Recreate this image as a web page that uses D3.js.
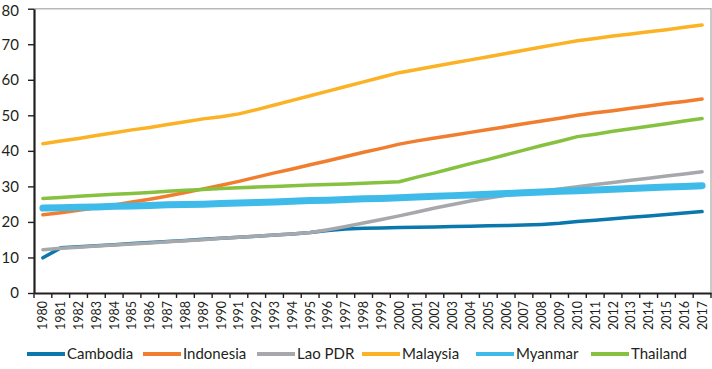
<!DOCTYPE html>
<html><head><meta charset="utf-8">
<script src="https://cdn.jsdelivr.net/npm/d3@7"></script>
<style>
html,body{margin:0;padding:0;background:#fff;}
svg{display:block;font-family:Lato,"Noto Sans",sans-serif;}
</style></head>
<body><svg id="c" width="712" height="369"></svg>
<script>
const years = d3.range(1980, 2018).map(String);
const seriesNames = ["Cambodia","Indonesia","Lao PDR","Malaysia","Myanmar","Thailand"];
const cambodia = [9.9,12.7,13.0,13.3,13.6,13.9,14.2,14.5,14.8,15.1,15.4,15.7,16.0,16.3,16.6,17.0,17.6,18.0,18.2,18.3,18.4,18.5,18.6,18.7,18.8,18.9,19.0,19.1,19.3,19.6,20.1,20.5,20.9,21.3,21.7,22.1,22.5,22.9];
const indonesia = [22.0,22.6,23.3,24.0,24.8,25.6,26.4,27.3,28.3,29.3,30.3,31.4,32.6,33.8,34.9,36.1,37.2,38.4,39.6,40.7,41.9,42.8,43.6,44.4,45.2,46.0,46.8,47.6,48.4,49.2,50.0,50.7,51.3,52.0,52.6,53.3,53.9,54.6];
const lao = [12.2,12.6,12.9,13.2,13.5,13.8,14.1,14.4,14.7,15.0,15.4,15.7,16.0,16.3,16.6,17.0,17.8,18.7,19.7,20.7,21.7,22.8,23.9,24.9,25.9,26.7,27.5,28.1,28.7,29.3,29.9,30.5,31.1,31.7,32.3,32.9,33.5,34.1];
const malaysia = [42.0,42.8,43.5,44.3,45.1,45.9,46.6,47.4,48.2,49.0,49.6,50.4,51.6,52.9,54.2,55.5,56.8,58.1,59.4,60.7,62.0,62.9,63.8,64.7,65.6,66.5,67.4,68.3,69.2,70.1,71.0,71.6,72.3,72.9,73.5,74.1,74.8,75.4];
const myanmar = [23.9,24.0,24.1,24.2,24.4,24.5,24.6,24.8,24.9,25.0,25.2,25.3,25.5,25.6,25.8,26.0,26.1,26.3,26.5,26.6,26.8,27.0,27.2,27.4,27.6,27.8,28.0,28.2,28.4,28.6,28.8,29.0,29.2,29.4,29.6,29.8,30.0,30.2];
const thailand = [26.6,26.9,27.2,27.5,27.8,28.0,28.3,28.6,28.9,29.1,29.4,29.6,29.8,30.0,30.2,30.4,30.5,30.7,30.9,31.1,31.3,32.6,33.8,35.1,36.4,37.6,38.9,40.2,41.5,42.7,44.0,44.7,45.5,46.2,46.9,47.6,48.4,49.1];
const yTicks = [0,10,20,30,40,50,60,70,80];
const colors = ["#0b78ad","#f07e2e","#a6a8ab","#fbb224","#3fbbe9","#87c140"];
const widths = [3.5,3.5,3.5,3.5,7,3.5];

const allSeries = [cambodia, indonesia, lao, malaysia, myanmar, thailand];
const svg = d3.select("#c");
const L = 34, R = 711, T = 8.7, B = 293;
const x = d3.scaleBand().domain(years).range([L, R]);
const y = d3.scaleLinear().domain([0, 80]).range([B, T]);

// border top/right
svg.append("path").attr("d", `M${L},${T}H${R}V${B}`).attr("fill","none").attr("stroke","#b9b9b9").attr("stroke-width",1.5);

// y axis
const ya = svg.append("g").attr("transform", `translate(${L},0)`)
  .call(d3.axisLeft(y).tickValues(yTicks).tickSize(6).tickPadding(9).tickSizeOuter(0));
ya.select(".domain").attr("stroke","#231f20").attr("stroke-width",2.2);
ya.selectAll(".tick line").attr("stroke","#231f20").attr("stroke-width",1.4);
ya.selectAll("text").attr("font-size",15).attr("fill","#231f20").attr("font-family","Lato")
  .attr("dy", d => d === 80 ? "0.45em" : "0.32em");

// x axis with ticks at band boundaries
const xa = svg.append("g").attr("transform", `translate(0,${B})`)
  .call(d3.axisBottom(x).tickSize(0).tickPadding(0).tickSizeOuter(0));
xa.select(".domain").attr("stroke","#231f20").attr("stroke-width",2.2);
xa.selectAll(".tick text")
  .attr("font-size",12.5).attr("fill","#231f20").attr("font-family","Lato")
  .attr("transform","rotate(-90)").attr("text-anchor","end")
  .attr("x",-8).attr("y",0).attr("dy","0.36em");
xa.selectAll(".tick").append("line")
  .attr("x1",-x.bandwidth()/2).attr("x2",-x.bandwidth()/2).attr("y1",0).attr("y2",5)
  .attr("stroke","#231f20").attr("stroke-width",1.4);
xa.append("line").attr("x1",R).attr("x2",R).attr("y1",0).attr("y2",5)
  .attr("stroke","#231f20").attr("stroke-width",1.4);

// lines
const line = d3.line().x((d,i)=>x(years[i]) + x.bandwidth()/2).y(d=>y(d));
allSeries.forEach((s,i)=>{
  svg.append("path").datum(s).attr("d", line)
    .attr("fill","none").attr("stroke",colors[i]).attr("stroke-width",widths[i])
    .attr("stroke-linecap","round").attr("stroke-linejoin","round");
});

// legend
const legendX = [27, 143, 257, 362, 476, 591];
const lg = svg.append("g");
seriesNames.forEach((n,i)=>{
  const g = lg.append("g").attr("transform", `translate(${legendX[i]},354)`);
  g.append("line").attr("x1",0).attr("x2",38).attr("y1",0).attr("y2",0)
    .attr("stroke",colors[i]).attr("stroke-width",4);
  g.append("text").attr("x",40).attr("y",0).attr("dy","0.35em")
    .attr("font-size",15).attr("fill","#231f20").text(n);
});
</script></body></html>
